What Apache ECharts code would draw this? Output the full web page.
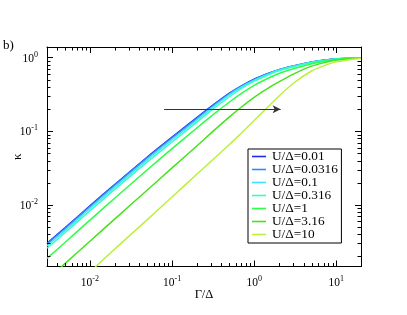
<!DOCTYPE html>
<html><head><meta charset="utf-8">
<script src="https://cdn.jsdelivr.net/npm/echarts@6/dist/echarts.min.js"></script>
<style>html,body{margin:0;padding:0;background:#fff}#c{width:407px;height:315px}</style>
</head><body><div id="c"></div>
<script>
// ---- data ----
const gamma = [0.003,0.005,0.01,0.02,0.05,0.1,0.2,0.3,0.5,0.7,1,1.5,2,3,5,7,10,15,20];
const seriesNames = ['U/Δ=0.01','U/Δ=0.0316','U/Δ=0.1','U/Δ=0.316','U/Δ=1','U/Δ=3.16','U/Δ=10'];
const kU0p01   = [0.0030,0.0049,0.0097,0.0189,0.0447,0.0833,0.153,0.218,0.33,0.415,0.51,0.615,0.69,0.775,0.875,0.925,0.97,0.99,1.0];
const kU0p0316 = [0.00294,0.0048,0.0095,0.0185,0.0438,0.0816,0.150,0.214,0.325,0.41,0.505,0.61,0.685,0.77,0.872,0.922,0.968,0.989,1.0];
const kU0p1    = [0.00276,0.0045,0.0089,0.0174,0.0412,0.0768,0.142,0.205,0.315,0.40,0.495,0.603,0.68,0.766,0.868,0.918,0.965,0.987,1.0];
const kU0p316  = [0.00257,0.0042,0.0083,0.0162,0.0383,0.0715,0.133,0.192,0.295,0.382,0.48,0.588,0.665,0.755,0.862,0.913,0.962,0.986,1.0];
const kU1      = [0.00187,0.0031,0.0062,0.0123,0.030,0.058,0.111,0.161,0.25,0.327,0.42,0.53,0.61,0.708,0.83,0.892,0.95,0.979,0.995];
const kU3p16   = [0.00096,0.0016,0.0032,0.0064,0.0159,0.0318,0.063,0.095,0.157,0.214,0.29,0.39,0.47,0.6,0.77,0.852,0.93,0.968,0.99];
const kU10     = [0.00035,0.0006,0.00122,0.0025,0.0063,0.0128,0.026,0.0393,0.066,0.095,0.14,0.219,0.30,0.45,0.66,0.775,0.88,0.95,0.985];
const allKappa = [kU0p01,kU0p0316,kU0p1,kU0p316,kU1,kU3p16,kU10];
const colors = ['#1f2bf0','#2f8cff','#3fe2ff','#33ffbe','#2cff48','#46e21c','#bdf03e'];
const xRange = [0.003, 20];
const yRange = [0.00145, 1.4];
const arrowFrom = [0.08, 0.2];
const arrowTo = [2.1, 0.2];
const xName = 'Γ/Δ';
const yName = 'κ';
const panelLabel = 'b)';

// minor ticks (2..9 x 10^k inside the axis ranges)
function minorVals(r){const out=[];for(let d=-4;d<=2;d++){for(let k=2;k<=9;k++){const v=k*Math.pow(10,d);if(v>r[0]*1.0001&&v<r[1]*0.9999)out.push(v);}}return out;}
const xMinor = minorVals(xRange);
const yMinor = minorVals(yRange);

const FONT = '"Liberation Serif","DejaVu Serif",serif';
function powLabel(v){const e=Math.log10(v);const r=Math.round(e);if(Math.abs(e-r)>1e-6)return '';return '{b|10}{s|'+r+'}';}
const rich = {b:{fontFamily:FONT,fontSize:11.5,lineHeight:14,verticalAlign:'bottom',color:'#000'},
              s:{fontFamily:FONT,fontSize:8,lineHeight:14,verticalAlign:'top',color:'#000'}};
const axisLine = {show:true,onZero:false,lineStyle:{color:'#000',width:1}};
const axisTick = {show:true,inside:true,length:6,lineStyle:{color:'#000',width:1}};

function minorTickSeries(vals,isX){
  return {type:'custom',coordinateSystem:'cartesian2d',xAxisIndex:0,yAxisIndex:0,silent:true,z:6,clip:false,
    data: vals.map(v=>isX?[v,0.1]:[1,v]),
    renderItem(params,api){
      const cs=params.coordSys;const p=api.coord([api.value(0),api.value(1)]);const L=3.5;
      const style={stroke:'#000',lineWidth:1};
      if(isX){const x=Math.round(p[0])+0.5;const b=cs.y+cs.height;
        return {type:'group',children:[{type:'line',shape:{x1:x,y1:b,x2:x,y2:b-L},style},{type:'line',shape:{x1:x,y1:cs.y,x2:x,y2:cs.y+L},style}]};}
      const y=Math.round(p[1])+0.5;const r=cs.x+cs.width;
      return {type:'group',children:[{type:'line',shape:{x1:cs.x,y1:y,x2:cs.x+L,y2:y},style},{type:'line',shape:{x1:r,y1:y,x2:r-L,y2:y},style}]};
    }};
}

const series = seriesNames.map((n,i)=>({name:n,type:'line',data:gamma.map((g,j)=>[g,allKappa[i][j]]),
  showSymbol:false,symbol:'none',smooth:0.2,clip:true,z:3,lineStyle:{color:colors[i],width:1.5},itemStyle:{color:colors[i]}}));
series.push({type:'line',data:[arrowFrom,arrowTo],symbol:'none',lineStyle:{width:0,opacity:0},z:4,
  markLine:{silent:true,symbol:['none','arrow'],symbolSize:[6,8],label:{show:false},
    lineStyle:{color:'#333',width:1,type:'solid'},emphasis:{disabled:true},
    data:[[{coord:arrowFrom},{coord:arrowTo}]]}});
series.push(minorTickSeries(xMinor,true));
series.push(minorTickSeries(yMinor,false));

const chart = echarts.init(document.getElementById('c'),null,{renderer:'canvas'});
chart.setOption({
  animation:false,
  backgroundColor:'#fff',
  title:{text:panelLabel,left:3,top:39,padding:0,textStyle:{fontFamily:FONT,fontSize:13,fontWeight:'normal',color:'#000'}},
  grid:{left:47,top:47,width:314,height:219.5,containLabel:false,outerBoundsMode:'none'},
  legend:{data:seriesNames.map(n=>({name:n,icon:'rect'})),orient:'vertical',left:248,top:149,itemWidth:14,itemHeight:1.6,itemGap:0,
    padding:[1,3.5,2,4],borderColor:'#000',borderWidth:1,borderRadius:0,backgroundColor:'#fff',
    textStyle:{fontFamily:FONT,fontSize:13.3,lineHeight:13,color:'#000',padding:[0,0,0,1]}},
  xAxis:[{type:'log',logBase:10,min:xRange[0],max:xRange[1],position:'bottom',axisLine,axisTick,
      splitLine:{show:false},minorTick:{show:false},
      axisLabel:{formatter:powLabel,rich,margin:8},
      name:xName,nameLocation:'middle',nameGap:22,nameMoveOverlap:false,nameTextStyle:{fontFamily:FONT,fontSize:12.5,color:'#000'}},
    {type:'log',logBase:10,min:xRange[0],max:xRange[1],position:'top',axisLine,axisTick,
      splitLine:{show:false},axisLabel:{show:false}}],
  yAxis:[{type:'log',logBase:10,min:yRange[0],max:yRange[1],position:'left',axisLine,axisTick,
      splitLine:{show:false},minorTick:{show:false},
      axisLabel:{formatter:powLabel,rich,margin:9},
      name:yName,nameLocation:'middle',nameGap:22.5,nameMoveOverlap:false,nameTextStyle:{fontFamily:FONT,fontSize:13,color:'#000'}},
    {type:'log',logBase:10,min:yRange[0],max:yRange[1],position:'right',axisLine,axisTick,
      splitLine:{show:false},axisLabel:{show:false}}],
  series
});
</script></body></html>
